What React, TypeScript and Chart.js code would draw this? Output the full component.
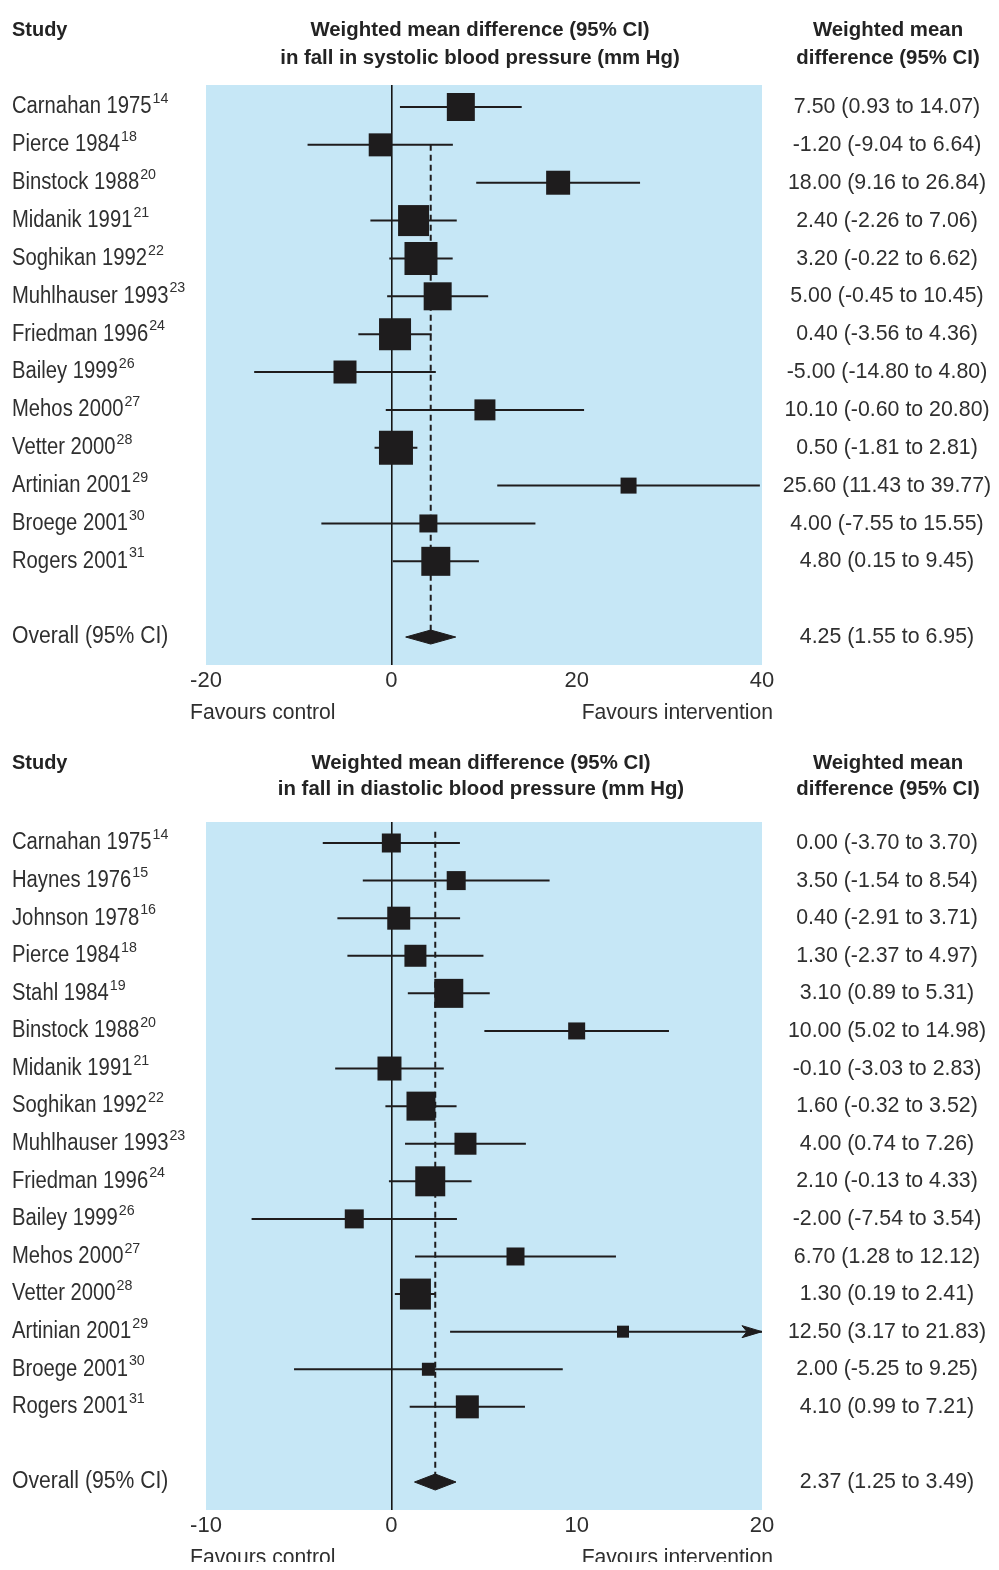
import React, { useEffect, useRef } from "react";
import { Chart, registerables } from "chart.js";

Chart.register(...registerables);

// ---- Systolic blood pressure ----
const sysStudies = [
  "Carnahan 1975", "Pierce 1984", "Binstock 1988", "Midanik 1991", "Soghikan 1992",
  "Muhlhauser 1993", "Friedman 1996", "Bailey 1999", "Mehos 2000", "Vetter 2000",
  "Artinian 2001", "Broege 2001", "Rogers 2001",
];
const sysRefs = [14, 18, 20, 21, 22, 23, 24, 26, 27, 28, 29, 30, 31];
const sysEst = [7.5, -1.2, 18.0, 2.4, 3.2, 5.0, 0.4, -5.0, 10.1, 0.5, 25.6, 4.0, 4.8];
const sysLow = [0.93, -9.04, 9.16, -2.26, -0.22, -0.45, -3.56, -14.8, -0.6, -1.81, 11.43, -7.55, 0.15];
const sysHigh = [14.07, 6.64, 26.84, 7.06, 6.62, 10.45, 4.36, 4.8, 20.8, 2.81, 39.77, 15.55, 9.45];
const sysOverall: [number, number, number] = [4.25, 1.55, 6.95];
const sysTicks = [-20, 0, 20, 40];
// marker side (px) reflecting study weight
const sysBox = [28, 23, 24, 31, 33, 28, 32, 23, 21, 34, 16, 18, 29];

// ---- Diastolic blood pressure ----
const diaStudies = [
  "Carnahan 1975", "Haynes 1976", "Johnson 1978", "Pierce 1984", "Stahl 1984",
  "Binstock 1988", "Midanik 1991", "Soghikan 1992", "Muhlhauser 1993", "Friedman 1996",
  "Bailey 1999", "Mehos 2000", "Vetter 2000", "Artinian 2001", "Broege 2001", "Rogers 2001",
];
const diaRefs = [14, 15, 16, 18, 19, 20, 21, 22, 23, 24, 26, 27, 28, 29, 30, 31];
const diaEst = [0.0, 3.5, 0.4, 1.3, 3.1, 10.0, -0.1, 1.6, 4.0, 2.1, -2.0, 6.7, 1.3, 12.5, 2.0, 4.1];
const diaLow = [-3.7, -1.54, -2.91, -2.37, 0.89, 5.02, -3.03, -0.32, 0.74, -0.13, -7.54, 1.28, 0.19, 3.17, -5.25, 0.99];
const diaHigh = [3.7, 8.54, 3.71, 4.97, 5.31, 14.98, 2.83, 3.52, 7.26, 4.33, 3.54, 12.12, 2.41, 21.83, 9.25, 7.21];
const diaOverall: [number, number, number] = [2.37, 1.25, 3.49];
const diaTicks = [-10, 0, 10, 20];
const diaBox = [19, 19, 23, 22, 29, 17, 24, 29, 22, 30, 19, 18, 31, 12, 13, 23];

const FONT = '"Liberation Sans", Arial, sans-serif';
const BLUE = "rgb(198, 231, 246)";
const INK = "#1e1c1d";
const TEXT = "#2f2f2f";

type Panel = {
  studies: string[];
  refs: number[];
  est: number[];
  lo: number[];
  hi: number[];
  overall: [number, number, number];
  ticks: number[];
  box: number[];
  title: [string, string];
  height: number;
  area: { left: number; right: number; top: number; bottom: number };
  firstRowY: number;
  rowStep: number;
  headerY: [number, number];
  titleX: number;
  favoursY: number;
  dashFrom: number;
  diamondHalf: number;
};

const WIDTH = 999;

const systolic: Panel = {
  studies: sysStudies,
  refs: sysRefs,
  est: sysEst,
  lo: sysLow,
  hi: sysHigh,
  overall: sysOverall,
  ticks: sysTicks,
  box: sysBox,
  title: ["Weighted mean difference (95% CI)", "in fall in systolic blood pressure (mm Hg)"],
  height: 745,
  area: { left: 206, right: 762, top: 85, bottom: 665 },
  firstRowY: 107,
  rowStep: 37.86,
  headerY: [30, 58],
  titleX: 480,
  favoursY: 713,
  dashFrom: 1,
  diamondHalf: 7,
};

const diastolic: Panel = {
  studies: diaStudies,
  refs: diaRefs,
  est: diaEst,
  lo: diaLow,
  hi: diaHigh,
  overall: diaOverall,
  ticks: diaTicks,
  box: diaBox,
  title: ["Weighted mean difference (95% CI)", "in fall in diastolic blood pressure (mm Hg)"],
  height: 825,
  area: { left: 206, right: 762, top: 77, bottom: 765 },
  firstRowY: 98,
  rowStep: 37.59,
  headerY: [18, 44],
  titleX: 481,
  favoursY: 813,
  dashFrom: -0.3,
  diamondHalf: 8,
};

const fmt = (e: number, l: number, h: number) =>
  `${e.toFixed(2)} (${l.toFixed(2)} to ${h.toFixed(2)})`;

// Draws text with optional horizontal condensing; returns drawn width.
function drawText(
  ctx: CanvasRenderingContext2D,
  s: string,
  x: number,
  y: number,
  size: number,
  opt: { bold?: boolean; align?: "left" | "center" | "right"; k?: number; color?: string } = {}
) {
  const k = opt.k ?? 1;
  ctx.save();
  ctx.font = `${opt.bold ? "bold " : ""}${size}px ${FONT}`;
  ctx.fillStyle = opt.color ?? TEXT;
  ctx.textBaseline = "middle";
  ctx.textAlign = "left";
  const w = ctx.measureText(s).width * k;
  const x0 = opt.align === "center" ? x - w / 2 : opt.align === "right" ? x - w : x;
  ctx.translate(x0, y);
  ctx.scale(k, 1);
  ctx.fillText(s, 0, 0);
  ctx.restore();
  return w;
}

function makePlugin(p: Panel) {
  return {
    id: "forestDecor",
    beforeDraw(chart: any) {
      const { ctx, chartArea: a } = chart;
      ctx.save();
      ctx.fillStyle = BLUE;
      ctx.fillRect(a.left, a.top, a.right - a.left, a.bottom - a.top);
      ctx.restore();
    },
    afterDraw(chart: any) {
      const ctx: CanvasRenderingContext2D = chart.ctx;
      const ys = chart.scales.y;
      const a = chart.chartArea;
      const hdr = "#232323";
      drawText(ctx, "Study", 12, p.headerY[0], 21, { bold: true, color: hdr, k: 0.95 });
      drawText(ctx, p.title[0], p.titleX, p.headerY[0], 21, { bold: true, align: "center", color: hdr, k: 0.97 });
      drawText(ctx, p.title[1], p.titleX, p.headerY[1], 21, { bold: true, align: "center", color: hdr, k: 0.97 });
      drawText(ctx, "Weighted mean", 888, p.headerY[0], 21, { bold: true, align: "center", color: hdr, k: 0.97 });
      drawText(ctx, "difference (95% CI)", 888, p.headerY[1], 21, { bold: true, align: "center", color: hdr, k: 0.97 });

      p.studies.forEach((s, i) => {
        const py = ys.getPixelForValue(i);
        const w = drawText(ctx, s, 12, py, 23, { k: 0.88 });
        drawText(ctx, String(p.refs[i]), 12 + w + 1, py - 8, 15, { k: 0.95 });
        drawText(ctx, fmt(p.est[i], p.lo[i], p.hi[i]), 887, py, 22, { align: "center", k: 0.97 });
      });
      const oy = ys.getPixelForValue(p.studies.length + 1);
      drawText(ctx, "Overall (95% CI)", 12, oy, 23, { k: 0.92 });
      drawText(ctx, fmt(p.overall[0], p.overall[1], p.overall[2]), 887, oy, 22, { align: "center", k: 0.97 });

      drawText(ctx, "Favours control", a.left - 16, p.favoursY, 22, { k: 0.96 });
      drawText(ctx, "Favours intervention", a.right + 11, p.favoursY, 22, { align: "right", k: 0.96 });
    },
  };
}

function buildConfig(p: Panel): any {
  const { area } = p;
  const xMin = p.ticks[0];
  const xMax = p.ticks[p.ticks.length - 1];
  const yMin = -(p.firstRowY - area.top) / p.rowStep;
  const yMax = (area.bottom - p.firstRowY) / p.rowStep;
  const pxPerX = (area.right - area.left) / (xMax - xMin);
  const overallRow = p.studies.length + 1;
  const [oEst, oLo, oHi] = p.overall;
  const dHalf = p.diamondHalf / p.rowStep;

  const ciSets = p.studies.map((_, i) => ({
    type: "line",
    data: [
      { x: p.lo[i], y: i },
      { x: Math.min(p.hi[i], xMax), y: i },
    ],
    borderColor: INK,
    borderWidth: 2,
    pointRadius: 0,
    fill: false,
    order: 3,
  }));

  // arrowheads for intervals running past the axis
  const arrowSets = p.studies
    .map((_, i) => i)
    .filter((i) => p.hi[i] > xMax)
    .map((i) => {
      const len = 20 / pxPerX;
      const half = 6 / p.rowStep;
      return {
        type: "line",
        data: [
          { x: xMax, y: i },
          { x: xMax - len, y: i - half },
          { x: xMax - len * 0.75, y: i },
          { x: xMax - len, y: i + half },
          { x: xMax, y: i },
        ],
        borderColor: INK,
        borderWidth: 1,
        backgroundColor: INK,
        pointRadius: 0,
        fill: "shape",
        order: 1,
      };
    });

  const boxes = {
    type: "scatter",
    data: p.est.map((e, i) => ({ x: e, y: i })),
    pointStyle: "rect",
    pointRadius: p.box.map((s) => s / Math.SQRT2),
    backgroundColor: INK,
    borderWidth: 0,
    order: 0,
  };

  const diamond = {
    type: "line",
    data: [
      { x: oLo, y: overallRow },
      { x: oEst, y: overallRow - dHalf },
      { x: oHi, y: overallRow },
      { x: oEst, y: overallRow + dHalf },
      { x: oLo, y: overallRow },
    ],
    borderColor: INK,
    borderWidth: 1,
    backgroundColor: INK,
    pointRadius: 0,
    fill: "shape",
    order: 0,
  };

  const dashed = {
    type: "line",
    data: [
      { x: oEst, y: p.dashFrom },
      { x: oEst, y: overallRow },
    ],
    borderColor: INK,
    borderWidth: 2,
    borderDash: [6, 4],
    pointRadius: 0,
    fill: false,
    order: 4,
  };

  return {
    type: "scatter",
    data: { datasets: [boxes, diamond, ...arrowSets, ...ciSets, dashed] },
    options: {
      animation: false,
      responsive: false,
      devicePixelRatio: 1,
      events: [],
      layout: {
        padding: {
          left: area.left,
          right: WIDTH - area.right,
          top: area.top,
          bottom: p.height - area.bottom - 30,
        },
      },
      plugins: {
        legend: { display: false },
        tooltip: { enabled: false },
      },
      scales: {
        x: {
          type: "linear",
          min: xMin,
          max: xMax,
          afterBuildTicks: (s: any) => {
            s.ticks = p.ticks.map((v) => ({ value: v }));
          },
          afterFit: (s: any) => {
            s.height = 30;
          },
          border: { display: false },
          grid: {
            drawTicks: false,
            lineWidth: 1.6,
            color: (c: any) => (c.tick && c.tick.value === 0 ? "#151515" : "rgba(0,0,0,0)"),
          },
          ticks: {
            padding: 3,
            autoSkip: false,
            maxRotation: 0,
            color: "#2f2f2f",
            font: { family: FONT, size: 22 },
          },
        },
        y: {
          type: "linear",
          display: false,
          reverse: true,
          min: yMin,
          max: yMax,
        },
      },
    },
    plugins: [makePlugin(p)],
  };
}

function ForestPanel({ panel }: { panel: Panel }) {
  const ref = useRef<HTMLCanvasElement | null>(null);
  useEffect(() => {
    if (!ref.current) return;
    const chart = new Chart(ref.current, buildConfig(panel));
    return () => chart.destroy();
  }, [panel]);
  return (
    <canvas
      ref={ref}
      width={WIDTH}
      height={panel.height}
      style={{ display: "block", width: WIDTH, height: panel.height }}
    />
  );
}

export default function App() {
  return (
    <div style={{ margin: -8, width: WIDTH, height: 1570, background: "#ffffff", overflow: "hidden" }}>
      <ForestPanel panel={systolic} />
      <ForestPanel panel={diastolic} />
    </div>
  );
}
